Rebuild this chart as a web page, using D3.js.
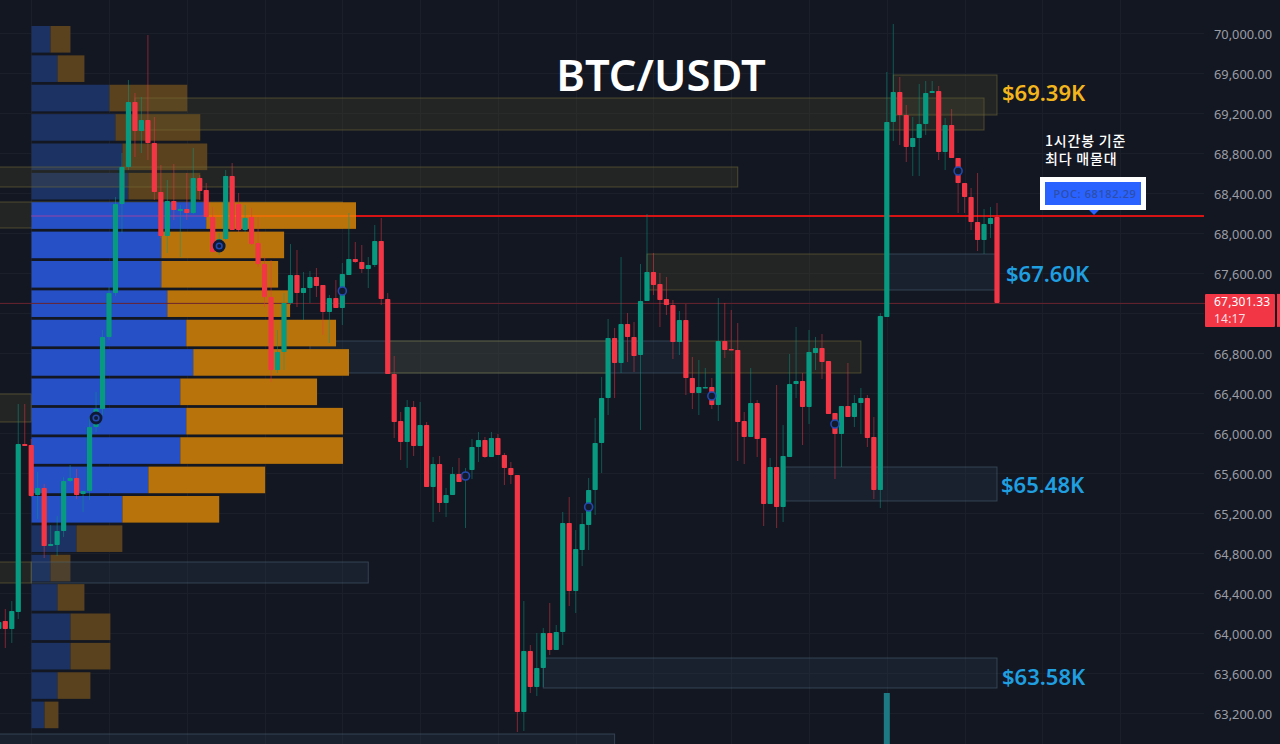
<!DOCTYPE html>
<html>
<head>
<meta charset="utf-8">
<script src="https://cdnjs.cloudflare.com/ajax/libs/d3/7.8.5/d3.min.js"></script>
<style>
html, body { margin: 0; padding: 0; background: #131722; overflow: hidden; }
svg { display: block; }
text { font-family: "Noto Sans", "Noto Sans CJK KR", sans-serif; }
</style>
</head>
<body>
<svg id="chart" width="1280" height="744"></svg>
<script>
// candles, first one sits at bar index -1
var opens = [64040,64120,64040,64210,65890,65880,65380,65450,64870,64880,65020,65520,65550,65390,65420,66060,66240,66960,67400,68290,68660,69310,69020,69130,68900,68410,67970,68320,68220,68240,68200,68550,68430,68160,67820,67940,68570,68290,68030,68160,67900,67690,67360,66630,66810,67300,67580,67400,67450,67560,67480,67210,67350,67250,67580,67740,67710,67640,67680,67920,67340,66590,66120,65910,66260,65870,66080,65460,65690,65300,65380,65590,65550,65630,65860,65930,65760,65950,65780,65650,65580,63210,63820,63460,63650,64000,63830,64010,65100,64420,64830,65080,65430,65900,66350,66950,66700,67090,66960,66780,67320,67610,67490,67340,67280,66910,67130,66550,66400,66450,66460,66280,66920,66840,66830,66120,65960,66300,65950,65290,65660,65260,65760,66490,66520,66260,66800,66850,66720,66200,65990,66270,66160,66300,66350,65960,65430,67160,69110,69410,69180,68860,68950,69090,69400,69420,68810,69080,68750,68500,68360,68110,67930,68090,68160];
var highs = [64180,64240,64320,66290,66290,65940,65610,65490,65080,65170,65560,65680,65640,65420,66160,66410,67030,67460,68360,68800,69530,69400,69360,69980,69160,68680,68530,68690,68280,68600,68850,68580,68500,68260,68000,68630,68700,68400,68280,68250,68160,67760,67730,67030,67400,67890,67830,67610,67620,67650,67480,67380,67530,67700,68200,67910,67880,67760,68080,68150,67400,66770,66210,66330,66320,66310,66110,65760,65770,65450,65660,65750,65650,65940,66010,65960,66010,65990,65800,65710,65580,64320,63880,64000,64050,64300,64080,65210,65360,65030,65200,65550,66150,66560,67140,67050,67760,67200,67110,67690,68190,67800,67600,67560,67330,67220,67290,66760,66730,66650,66550,67350,67300,67230,67100,66210,66650,66330,65950,65750,66480,66080,66790,67060,66600,67030,66960,66990,66720,66200,66270,66700,66380,66450,66380,66160,67200,69610,70090,69560,69280,69160,69490,69520,69520,69470,69150,69240,68750,68500,68450,68600,68240,68260,68300];
var lows = [63980,63850,63900,64140,65870,65360,65140,64750,64870,64770,64960,65510,65340,65210,65330,66010,66180,66930,67370,68000,68630,68760,68800,68730,68330,67950,67800,68130,67760,68130,68190,68330,68130,67810,67780,67930,68030,68010,68010,67880,67660,67260,66510,66600,66630,67280,67260,67130,67300,67360,66980,66900,67250,67080,67580,67700,67600,67450,67660,67280,66590,65950,65730,65650,65770,65870,65460,65110,65210,65160,65380,65510,65050,65540,65710,65750,65760,65780,65480,65490,63010,63020,63400,63370,63460,63780,63830,63880,64270,64200,64670,64830,65180,65600,66180,66350,66600,66710,66610,66030,67320,67380,67060,67180,66740,66780,66380,66240,66180,66450,66240,66120,66750,66830,65720,65690,65960,65760,65070,65290,65050,65110,65760,66350,65880,66090,66630,66540,66190,65540,65660,66160,66060,65990,65860,65340,65250,67160,68920,68880,68710,68570,68570,68980,69400,68730,68630,68750,68200,68200,68030,67820,67790,67950,67301];
var closes = [64110,64040,64220,65890,65870,65370,65450,64870,64890,65020,65520,65550,65380,65420,66060,66240,66960,67400,68290,68660,69310,69020,69130,68900,68410,67970,68320,68230,68240,68200,68550,68420,68160,67810,67940,68570,68030,68030,68150,67890,67690,67360,66630,66810,67300,67580,67400,67450,67560,67470,67210,67350,67250,67590,67740,67710,67640,67680,67920,67340,66590,66110,65910,66260,65870,66080,65460,65690,65300,65380,65590,65510,65610,65860,65930,65760,65950,65780,65650,65580,63210,63820,63460,63650,64000,63830,64010,65100,64420,64840,65090,65430,65900,66350,66950,66700,67090,66960,66770,67320,67610,67480,67330,67280,66910,67130,66550,66400,66460,66460,66280,66920,66830,66830,66110,65960,66300,65940,65290,65660,65260,65770,66490,66520,66260,66810,66850,66710,66190,65990,66270,66160,66300,66350,65950,65430,67170,69110,69410,69180,68860,68950,69090,69400,69420,68810,69080,68750,68500,68360,68110,67930,68090,68150,67301];

// volume profile rows, top row first
var vpBuy = [19,26,78,84,91,97,175,130,130,136,155,162,149,155,149,117,91,45,19,26,39,39,26,13];
var vpTotal = [39,53,156,169,176,169,325,253,247,259,305,318,286,312,312,234,188,91,39,53,79,79,59,27];
var vpTop = 70070, vpBottom = 63020;
var vaFirst = 6, vaLast = 16;

// x0, x1 in bars, then price top, price bottom
var yellowZones = [
  [20, 151, 69350, 69030],
  [-2, 113, 68660, 68460],
  [-2, 52, 68310, 68050],
  [-2, 4, 66390, 66110],
  [-2, 4, 64710, 64500],
  [99, 136, 67790, 67430],
  [59, 93, 66920, 66600],
  [105, 132, 66920, 66600],
  [137, 153, 69580, 69180]
];
var blueZones = [
  [4, 56, 64710, 64500],
  [136, 153, 67790, 67430],
  [47, 105, 66920, 66600],
  [120, 153, 65660, 65320],
  [83, 153, 63750, 63450],
  [-2, 94, 62990, 62800]
];

var signalBars = [14, 33, 52, 71, 90, 109, 128, 147];
var signalPrices = [66150, 67870, 67420, 65570, 65260, 66370, 66090, 68620];
var gridBars = [4, 16, 28, 40, 52, 64, 76, 88, 100, 112, 124, 136, 148, 160, 172];

var priceTicks = [70000,69600,69200,68800,68400,68000,67600,67200,66800,66400,66000,65600,65200,64800,64400,64000,63600,63200];
// 67,200 sits behind the last price tag
var hiddenTick = 67200;
var pocPrice = 68170, pocValue = "POC: 68182.29", lastPrice = 67301, volBar = 136, volTop = 63400;
var labels = [["$69.39K", 1002, 69410, "#f3b51c"], ["$67.60K", 1006, 67600, "#1f9fe0"], ["$65.48K", 1001, 65490, "#1f9fe0"], ["$63.58K", 1002, 63570, "#1f9fe0"]];

var svg = d3.select("#chart");
var up = "#089981", down = "#f23645";

var x = d3.scaleLinear().domain([0, 153]).range([5.3, 997]);
var y = d3.scaleLinear().domain([70000, 63200]).range([33, 713]);
var vpX = d3.scaleLinear().domain([0, 325]).range([31.5, 356]);
var vpY = d3.scaleLinear().domain([0, 24]).range([y(vpTop), y(vpBottom)]);

svg.append("rect").attr("width", 1280).attr("height", 744).attr("fill", "#131722");

// grid
svg.append("g").selectAll("line").data(priceTicks).join("line")
  .attr("x1", 0).attr("x2", 1204)
  .attr("y1", function(d) { return y(d) + 0.5; }).attr("y2", function(d) { return y(d) + 0.5; })
  .attr("stroke", "#1b1f2a");
svg.append("g").selectAll("line").data(gridBars).join("line")
  .attr("x1", function(d) { return Math.round(x(d)) + 0.5; }).attr("x2", function(d) { return Math.round(x(d)) + 0.5; })
  .attr("y1", 0).attr("y2", 744)
  .attr("stroke", "#1b1f2a");

function drawZones(rows, fill, stroke) {
  svg.append("g").selectAll("rect").data(rows).join("rect")
    .attr("x", function(d) { return x(d[0]); })
    .attr("width", function(d) { return x(d[1]) - x(d[0]); })
    .attr("y", function(d) { return y(d[2]); })
    .attr("height", function(d) { return y(d[3]) - y(d[2]); })
    .attr("fill", fill)
    .attr("stroke", stroke);
}

// profile rows: the dim ones go under the zones, the value area on top of them
function drawRows(list, buyFill, sellFill) {
  var rows = svg.append("g").selectAll("g").data(list).join("g");
  rows.append("rect")
    .attr("x", vpX(0))
    .attr("y", function(i) { return vpY(i); })
    .attr("width", function(i) { return vpX(vpBuy[i]) - vpX(0); })
    .attr("height", 26.6)
    .attr("fill", buyFill);
  rows.append("rect")
    .attr("x", function(i) { return vpX(vpBuy[i]); })
    .attr("y", function(i) { return vpY(i); })
    .attr("width", function(i) { return vpX(vpTotal[i]) - vpX(vpBuy[i]); })
    .attr("height", 26.6)
    .attr("fill", sellFill);
}
var allRows = d3.range(vpTotal.length);
drawRows(allRows.filter(function(i) { return i < vaFirst || i > vaLast; }), "#1c3263", "#5b421e");
drawZones(blueZones, "rgba(42,62,84,0.28)", "rgba(80,104,124,0.5)");
drawZones(yellowZones, "rgba(92,88,48,0.23)", "rgba(118,112,56,0.55)");
drawRows(allRows.filter(function(i) { return i >= vaFirst && i <= vaLast; }), "#2550c6", "#b8740b");

// poc line, tinted where it crosses the profile
svg.append("line")
  .attr("x1", vpX(0)).attr("x2", vpX(vpBuy[vaFirst]))
  .attr("y1", y(pocPrice)).attr("y2", y(pocPrice))
  .attr("stroke", "#5f49b4").attr("stroke-width", 2);
svg.append("line")
  .attr("x1", vpX(vpBuy[vaFirst])).attr("x2", vpX(vpTotal[vaFirst]))
  .attr("y1", y(pocPrice)).attr("y2", y(pocPrice))
  .attr("stroke", "#e66f06").attr("stroke-width", 2);
svg.append("line")
  .attr("x1", vpX(vpTotal[vaFirst])).attr("x2", 1204)
  .attr("y1", y(pocPrice)).attr("y2", y(pocPrice))
  .attr("stroke", "#d81313").attr("stroke-width", 2);

// last price line
svg.append("line")
  .attr("x1", 0).attr("x2", 1205)
  .attr("y1", y(lastPrice) + 0.5).attr("y2", y(lastPrice) + 0.5)
  .attr("stroke", "#6a2430");

// lone volume bar at the bottom
svg.append("rect")
  .attr("x", x(volBar) - 3).attr("width", 6)
  .attr("y", y(volTop)).attr("height", 744 - y(volTop))
  .attr("fill", "#1d7a84");

// candles
var bars = d3.range(opens.length);
var candles = svg.append("g").selectAll("g").data(bars).join("g")
  .attr("fill", function(i) { return closes[i] >= opens[i] ? up : down; })
  .attr("stroke", function(i) { return closes[i] >= opens[i] ? up : down; });
candles.append("line")
  .attr("x1", function(i) { return x(i - 1); }).attr("x2", function(i) { return x(i - 1); })
  .attr("y1", function(i) { return y(highs[i]); }).attr("y2", function(i) { return y(lows[i]); })
  .attr("stroke-opacity", 0.5);
candles.append("rect")
  .attr("x", function(i) { return x(i - 1) - 2.6; })
  .attr("width", 5.2)
  .attr("y", function(i) { return y(Math.max(opens[i], closes[i])); })
  .attr("height", function(i) { return Math.max(1.5, Math.abs(y(opens[i]) - y(closes[i]))); })
  .attr("rx", 0.8)
  .attr("stroke", "none");

// signal circles, first two have the dark halo
svg.append("g").selectAll("circle").data(d3.range(signalBars.length)).join("circle")
  .attr("cx", function(k) { return x(signalBars[k]); })
  .attr("cy", function(k) { return y(signalPrices[k]); })
  .attr("r", function(k) { return k < 2 ? 5.6 : 4; })
  .attr("fill", function(k) { return k < 2 ? "#0f1a35" : "#121a2c"; })
  .attr("stroke", function(k) { return k < 2 ? "#0f1a35" : "#2348b0"; })
  .attr("stroke-width", 1.6);
svg.append("g").selectAll("circle").data([0, 1]).join("circle")
  .attr("cx", function(k) { return x(signalBars[k]); })
  .attr("cy", function(k) { return y(signalPrices[k]); })
  .attr("r", 2.8)
  .attr("fill", "#0f1a35")
  .attr("stroke", "#2348b0")
  .attr("stroke-width", 1.6);

// price axis
var axis = d3.axisRight(y)
  .tickValues(priceTicks.filter(function(d) { return d !== hiddenTick; }))
  .tickSize(0).tickPadding(0)
  .tickFormat(function(d) { return d3.format(",.2f")(d); });
var axisG = svg.append("g").attr("transform", "translate(1214,1)").call(axis);
axisG.select(".domain").remove();
axisG.selectAll("text").attr("fill", "#9a9da6").attr("font-size", 12.8)
  .style("font-family", "'Noto Sans', sans-serif");

// last price tag
svg.append("rect").attr("x", 1205).attr("y", y(lastPrice) - 9).attr("width", 70).attr("height", 33)
  .attr("fill", down).attr("rx", 1);
svg.append("rect").attr("x", 1277).attr("y", y(lastPrice) - 9).attr("width", 3).attr("height", 33)
  .attr("fill", down);
svg.append("text").attr("x", 1214).attr("y", y(lastPrice) + 3).attr("fill", "#fff")
  .attr("font-size", 12).attr("letter-spacing", 0.2).text(d3.format(",.2f")(67301.33));
svg.append("text").attr("x", 1214).attr("y", y(lastPrice) + 20).attr("fill", "#fbdfe2")
  .attr("font-size", 12).attr("letter-spacing", 0.2).text("14:17");

// title and labels
svg.append("text").attr("x", 661).attr("y", 91).attr("text-anchor", "middle")
  .attr("fill", "#fff").attr("font-size", 43.5).attr("font-weight", 600).text("BTC/USDT");
svg.selectAll("text.lvl").data(labels).join("text").attr("class", "lvl")
  .attr("x", function(d) { return d[1]; })
  .attr("y", function(d) { return y(d[2]) + 9; })
  .attr("fill", function(d) { return d[3]; })
  .attr("font-size", 22).attr("font-weight", 600)
  .text(function(d) { return d[0]; });

svg.append("text").attr("x", 1045).attr("y", 146).attr("fill", "#fff")
  .attr("font-size", 14).attr("font-weight", 500).attr("letter-spacing", 0.8)
  .style("font-family", "'Noto Sans CJK KR', sans-serif").text("1시간봉 기준");
svg.append("text").attr("x", 1045).attr("y", 164).attr("fill", "#fff")
  .attr("font-size", 14).attr("font-weight", 500).attr("letter-spacing", 0.8)
  .style("font-family", "'Noto Sans CJK KR', sans-serif").text("최다 매물대");

// poc tag
svg.append("path")
  .attr("d", d3.line()([[1089, y(pocPrice) - 6], [1099, y(pocPrice) - 6], [1094, y(pocPrice) - 1]]))
  .attr("fill", "#2962ff");
svg.append("rect").attr("x", 1040).attr("y", 177).attr("width", 106).attr("height", 33).attr("fill", "#fff");
svg.append("rect").attr("x", 1045).attr("y", 182).attr("width", 96).attr("height", 23).attr("fill", "#2962ff");
svg.append("text").attr("x", 1095).attr("y", 198).attr("text-anchor", "middle")
  .attr("fill", "#2e4ea8").attr("font-size", 11).attr("font-weight", 500).attr("letter-spacing", 0.6)
  .text(pocValue);
</script>
</body>
</html>
